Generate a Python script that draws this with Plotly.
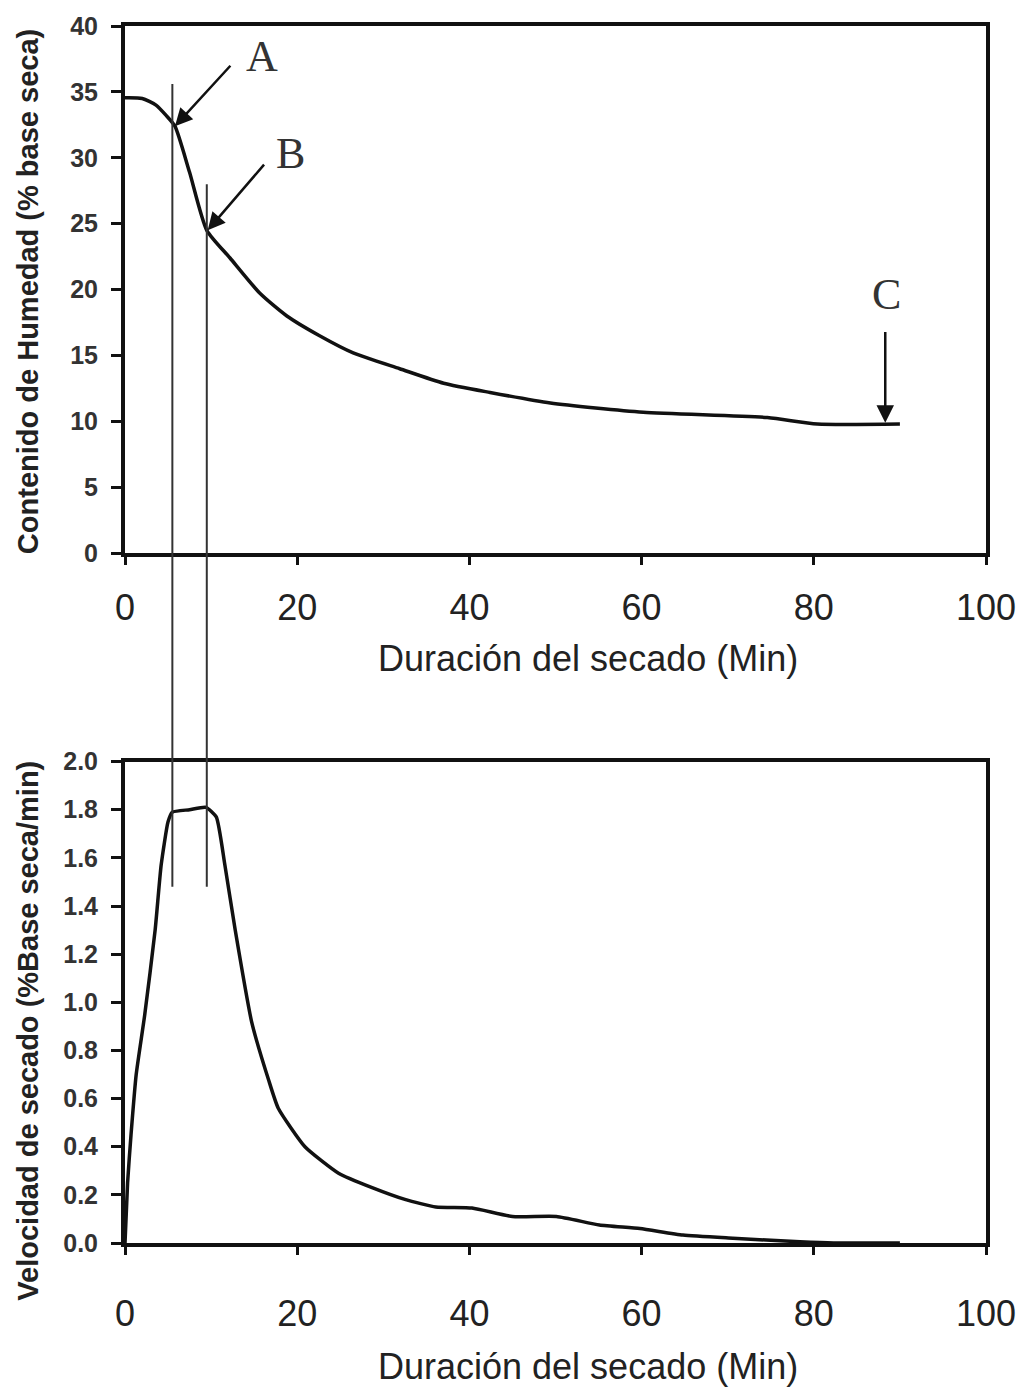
import plotly.graph_objects as go

# ---------------- data ----------------
tiempo_humedad = [0, 2.0, 3.6, 4.8, 5.8, 7.5, 9.5, 12.2, 15.7, 18.8, 22.6, 26.5,
                  31.9, 37.0, 42.4, 49.4, 60.2, 74.6, 80.4, 90.0]
humedad = [34.55, 34.5, 34.0, 33.2, 32.4, 28.9, 24.5, 22.4, 19.7, 18.0, 16.5, 15.2,
           14.0, 12.9, 12.2, 11.4, 10.7, 10.3, 9.8, 9.8]

tiempo_velocidad = [0, 0.3, 0.7, 1.3, 2.3, 3.5, 4.2, 5.0, 5.5, 7.5, 9.4, 10.6, 11.6,
                    12.8, 14.7, 16.7, 17.8, 20.9, 24.8, 28.7, 32.6, 36.1, 40.3, 45.0,
                    50.1, 55.1, 59.8, 64.8, 70.6, 78.4, 82.3, 90.0]
velocidad = [0, 0.25, 0.45, 0.7, 0.95, 1.3, 1.57, 1.75, 1.79, 1.80, 1.81, 1.77, 1.57,
             1.30, 0.92, 0.675, 0.56, 0.40, 0.29, 0.23, 0.18, 0.15, 0.145, 0.11,
             0.11, 0.075, 0.06, 0.033, 0.02, 0.005, 0.0, 0.0]

x_ticks = [0, 20, 40, 60, 80, 100]
y_ticks_humedad = [0, 5, 10, 15, 20, 25, 30, 35, 40]
y_ticks_velocidad = [0.0, 0.2, 0.4, 0.6, 0.8, 1.0, 1.2, 1.4, 1.6, 1.8, 2.0]
y_ticktext_velocidad = ["0.0", "0.2", "0.4", "0.6", "0.8", "1.0", "1.2", "1.4", "1.6", "1.8", "2.0"]

# markers of points A, B (time) and the extent of the guide lines
t_A, t_B = 5.5, 9.5
guia_top = [35.6, 28.0]      # start in moisture units (top chart)
guia_bottom = 1.48           # end in rate units (bottom chart)

etiquetas = [  # label, x, y (top chart data)
    ("A", 15.9, 37.7),
    ("B", 19.2, 30.3),
    ("C", 88.4, 19.6),
]
flechas = [  # tip x, tip y, tail x, tail y
    (5.8, 32.4, 12.4, 37.1),
    (9.6, 24.5, 16.3, 29.6),
    (88.3, 9.9, 88.3, 16.9),
]

# ---------------- layout constants ----------------
W, H = 1029, 1393
ML, MR, MT, MB = 125, 43, 22, 150
ph = H - MT - MB
dom_top = [1 - (551 - MT) / ph, 1.0]
dom_bot = [0.0, 1 - (760 - MT) / ph]

SANS = "Liberation Sans, Arial, sans-serif"
SERIF = "Liberation Serif, Times New Roman, serif"
INK = "#111111"

fig = go.Figure()
fig.add_trace(go.Scatter(x=tiempo_humedad, y=humedad, mode="lines",
                         line=dict(color=INK, width=3.5, shape="spline", smoothing=0.6),
                         xaxis="x", yaxis="y", showlegend=False, hoverinfo="skip"))
fig.add_trace(go.Scatter(x=tiempo_velocidad, y=velocidad, mode="lines",
                         line=dict(color=INK, width=3.5, shape="spline", smoothing=0.5),
                         xaxis="x2", yaxis="y2", showlegend=False, hoverinfo="skip"))

xcommon = dict(range=[0, 100], tickvals=x_ticks, ticks="outside", ticklen=8, tickwidth=2.5,
               tickcolor=INK, showline=True, linewidth=4, linecolor=INK, mirror=True,
               showgrid=False, zeroline=False,
               tickfont=dict(family=SANS, size=36, color="#222222"))
ycommon = dict(ticks="outside", ticklen=10, tickwidth=2.5, tickcolor=INK,
               showline=True, linewidth=4, linecolor=INK, mirror=True,
               showgrid=False, zeroline=False, ticklabelstandoff=8,
               tickfont=dict(family=SANS, size=25, color="#333333", weight="bold"))

fig.update_layout(
    width=W, height=H,
    margin=dict(l=ML, r=MR, t=MT, b=MB),
    paper_bgcolor="white", plot_bgcolor="white",
    xaxis=dict(domain=[0, 1], anchor="y", ticklabelstandoff=12, **xcommon),
    yaxis=dict(domain=dom_top, anchor="x", range=[0, 40], tickvals=y_ticks_humedad, **ycommon),
    xaxis2=dict(domain=[0, 1], anchor="y2", ticklabelstandoff=28, **xcommon),
    yaxis2=dict(domain=dom_bot, anchor="x2", range=[0, 2], tickvals=y_ticks_velocidad,
                ticktext=y_ticktext_velocidad, **ycommon),
)

# guide lines crossing both charts
def paper_y_top(v):
    return dom_top[0] + v / 40 * (dom_top[1] - dom_top[0])

def paper_y_bot(v):
    return dom_bot[0] + v / 2 * (dom_bot[1] - dom_bot[0])

for t, ytop in zip([t_A, t_B], guia_top):
    fig.add_shape(type="line", xref="x", yref="paper", x0=t, x1=t,
                  y0=paper_y_top(ytop), y1=paper_y_bot(guia_bottom),
                  line=dict(color="#333333", width=2))

annotations = []
for txt, x, y in etiquetas:
    annotations.append(dict(text=txt, x=x, y=y, xref="x", yref="y", showarrow=False,
                            font=dict(family=SERIF, size=44, color="#333333")))
for xt, yt, xa, ya in flechas:
    annotations.append(dict(text="", x=xt, y=yt, xref="x", yref="y", ax=xa, ay=ya,
                            axref="x", ayref="y", showarrow=True, arrowhead=2,
                            arrowsize=1.4, arrowwidth=2.5, arrowcolor=INK, standoff=0))

# axis titles
annotations.append(dict(text="Duración del secado (Min)", xref="paper", yref="paper",
                        x=(588 - ML) / (W - ML - MR), y=(H - MB - 657) / ph,
                        showarrow=False, xanchor="center", yanchor="middle",
                        font=dict(family=SANS, size=36, color="#222222")))
annotations.append(dict(text="Duración del secado (Min)", xref="paper", yref="paper",
                        x=(588 - ML) / (W - ML - MR), y=(H - MB - 1367) / ph,
                        showarrow=False, xanchor="center", yanchor="middle",
                        font=dict(family=SANS, size=36, color="#222222")))
annotations.append(dict(text="Contenido de Humedad (% base seca)", xref="paper", yref="paper",
                        x=(28 - ML) / (W - ML - MR), y=(H - MB - 289) / ph, textangle=-90,
                        showarrow=False, xanchor="center", yanchor="middle",
                        font=dict(family=SANS, size=29, color="#222222", weight="bold")))
annotations.append(dict(text="Velocidad de secado (%Base seca/min)", xref="paper", yref="paper",
                        x=(28 - ML) / (W - ML - MR), y=(H - MB - 1030) / ph, textangle=-90,
                        showarrow=False, xanchor="center", yanchor="middle",
                        font=dict(family=SANS, size=29, color="#222222", weight="bold")))
fig.update_layout(annotations=annotations)

fig.write_html("out.html")
